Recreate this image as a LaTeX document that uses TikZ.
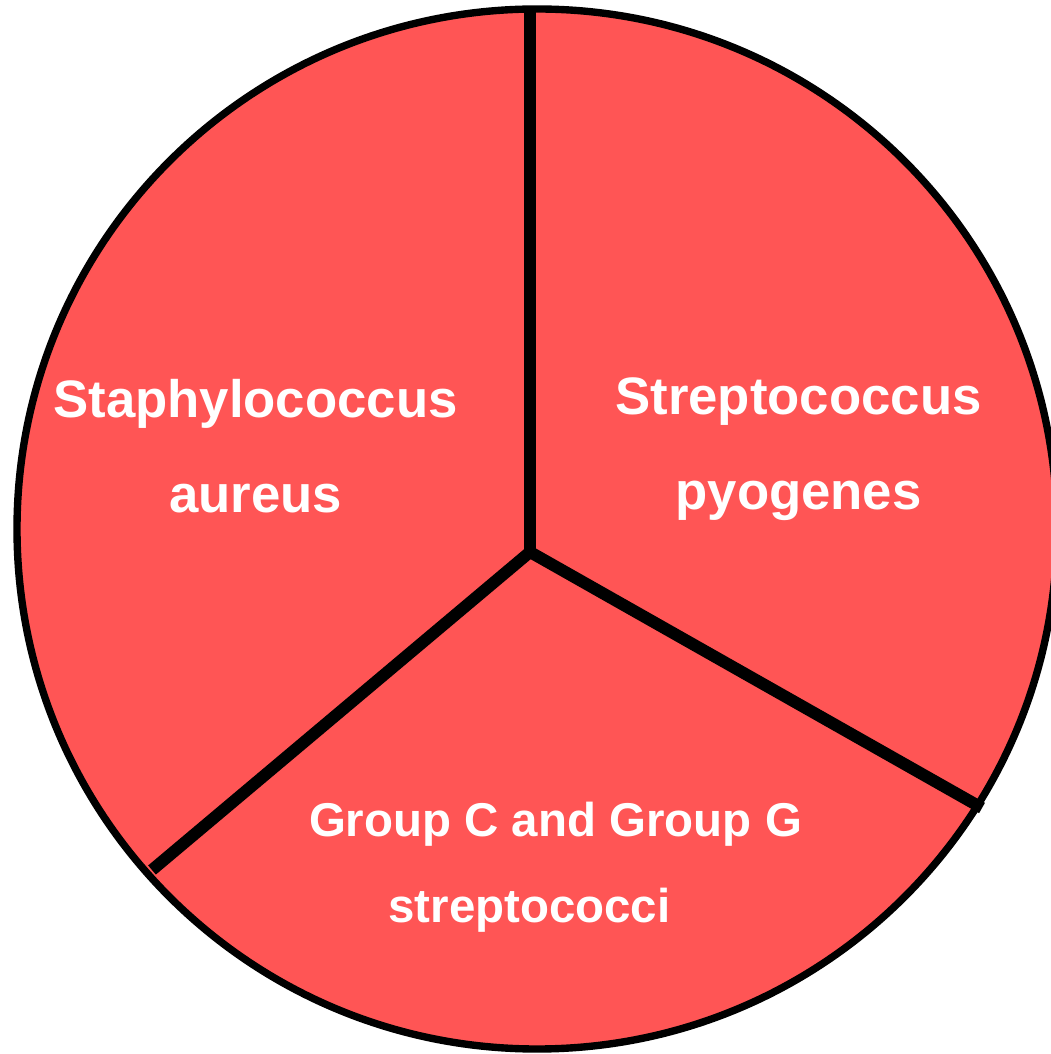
\documentclass[tikz,border=0pt]{standalone}
\usepackage{fontspec}
\setmainfont{Liberation Sans}
\usepackage{xcolor}
\usepackage{tikz}
\definecolor{sectorfill}{RGB}{255,85,85}
\tikzset{
  rim/.style={draw=black,line width=2.1pt,fill=sectorfill},
  divider/.style={draw=black,line width=3.4pt,line cap=butt},
  biglabel/.style={text=white,font=\fontsize{15}{27.2}\selectfont\bfseries,
    align=center,anchor=base,inner sep=0pt},
  smalllabel/.style={text=white,font=\fontsize{13.5}{24.4}\selectfont\bfseries,
    align=center,anchor=base,inner sep=0pt}
}

\begin{document}
\begin{tikzpicture}[x=0.1mm,y=-0.1mm]
  \useasboundingbox (0,0) rectangle (1050,1054);

  \coordinate (middle)   at (537,529);
  \coordinate (hub)      at (530,552);
  \coordinate (topend)   at (530,9);
  \coordinate (rightend) at (982,808);
  \coordinate (leftend)  at (152,870);

  \draw[rim] (middle) circle[radius=5.2cm];

  \draw[divider] (hub) -- (topend);
  \draw[divider] (hub) -- (rightend);
  \draw[divider] (hub) -- (leftend);

  % base anchor sits on the last line
  \node[biglabel]   (staph) at (255.5,513) {Staphylococcus\\aureus};
  \node[biglabel]   (strep) at (798.5,510) {Streptococcus\\pyogenes};
  \node[smalllabel] (group) at (555.5,922) {Group C and Group G\\streptococci\hspace*{0.52cm}};
\end{tikzpicture}
\end{document}
